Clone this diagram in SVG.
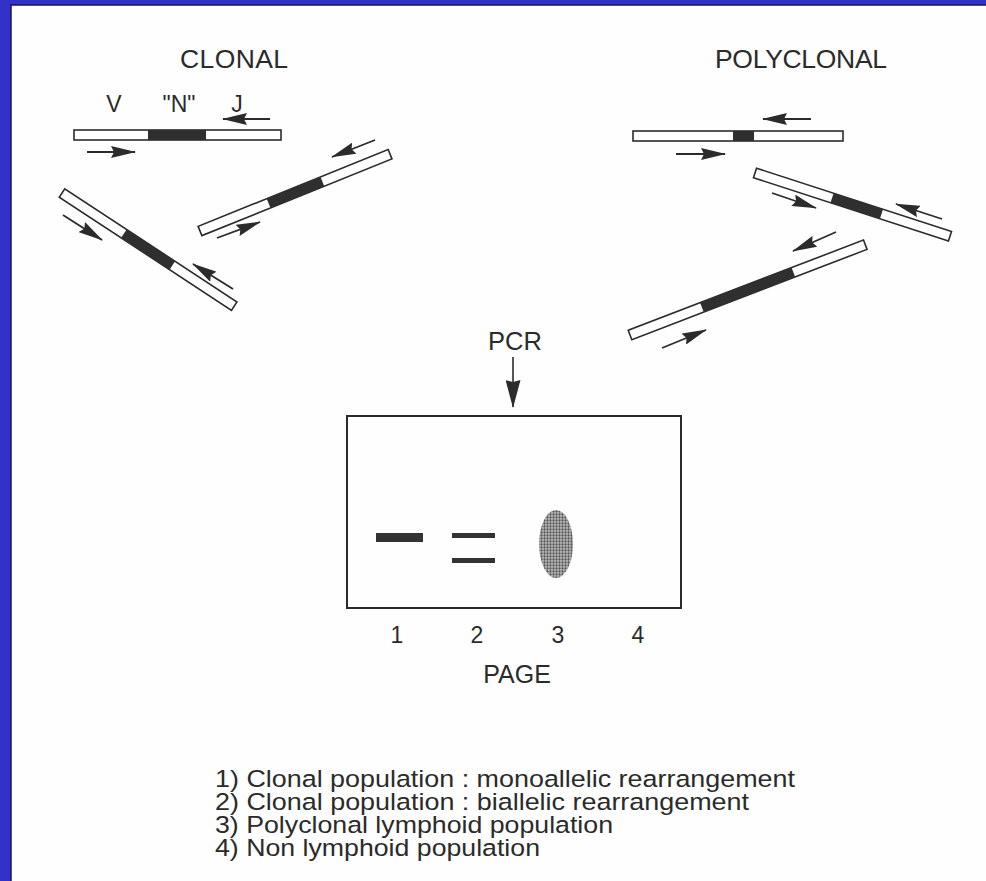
<svg xmlns="http://www.w3.org/2000/svg" width="986" height="881" viewBox="0 0 986 881">
  <defs>
    <style>
      .t { font-family: "Liberation Sans", Arial, Helvetica, sans-serif; fill: #2b2b2b; }
      .bar { fill: #ffffff; stroke: #2b2b2b; stroke-width: 1.6; }
      .seg { fill: #2f2f2f; }
      .pr { stroke: #2b2b2b; stroke-width: 1.8; fill: none; marker-end: url(#head); }
      .lg { font-size: 24.5px; }
    </style>
    <marker id="head" markerUnits="userSpaceOnUse" markerWidth="25" markerHeight="12" refX="24" refY="6" orient="auto">
      <path d="M0,0 L25,6 L0,12 L3,6 Z" fill="#2b2b2b"/>
    </marker>
    <marker id="head2" markerUnits="userSpaceOnUse" markerWidth="28" markerHeight="15" refX="27" refY="7.5" orient="auto">
      <path d="M0,0 L28,7.5 L0,15 L2,7.5 Z" fill="#2b2b2b"/>
    </marker>
    <pattern id="dots" patternUnits="userSpaceOnUse" width="3" height="3">
      <rect width="3" height="3" fill="#bdbdbd"/>
      <circle cx="1.5" cy="1.5" r="1.15" fill="#555555"/>
    </pattern>
  </defs>

  <!-- frame -->
  <rect x="0" y="0" width="986" height="881" fill="#3232c8"/>
  <rect x="11" y="5" width="976" height="877" fill="#fefefe" stroke="#1a1a3a" stroke-width="1.5"/>

  <!-- headings -->
  <text class="t" x="180" y="68" font-size="26.5" textLength="108">CLONAL</text>
  <text class="t" x="715" y="68" font-size="26.5" textLength="172">POLYCLONAL</text>

  <!-- clonal molecules -->
  <g id="clonal-1">
    <text class="t" x="114" y="112" font-size="23" text-anchor="middle">V</text>
    <text class="t" x="179" y="112" font-size="23" text-anchor="middle">"N"</text>
    <text class="t" x="237" y="112" font-size="23" text-anchor="middle">J</text>
    <g transform="translate(74,135)">
      <rect class="bar" x="0" y="-5" width="207" height="10"/>
      <rect class="seg" x="74" y="-5" width="58" height="10"/>
    </g>
  </g>
  <g id="clonal-2">
    <g transform="translate(62,193) rotate(33.3)">
      <rect class="bar" x="0" y="-5" width="206" height="10"/>
      <rect class="seg" x="74" y="-5" width="58" height="10"/>
    </g>
  </g>
  <g id="clonal-3">
    <g transform="translate(200,231) rotate(-22)">
      <rect class="bar" x="0" y="-5" width="205" height="10"/>
      <rect class="seg" x="74" y="-5" width="58" height="10"/>
    </g>
  </g>

  <!-- polyclonal molecules -->
  <g id="poly-1">
    <g transform="translate(633,136)">
      <rect class="bar" x="0" y="-5" width="210" height="10"/>
      <rect class="seg" x="100" y="-5" width="21" height="10"/>
    </g>
  </g>
  <g id="poly-2">
    <g transform="translate(755,173) rotate(18)">
      <rect class="bar" x="0" y="-5" width="205" height="10"/>
      <rect class="seg" x="81" y="-5" width="52" height="10"/>
    </g>
  </g>
  <g id="poly-3">
    <g transform="translate(630,335) rotate(-21)">
      <rect class="bar" x="0" y="-5" width="252" height="10"/>
      <rect class="seg" x="77" y="-5" width="98" height="10"/>
    </g>
  </g>

  <!-- PCR -->
  <g id="pcr">
    <text class="t" x="515" y="350" font-size="25.5" text-anchor="middle">PCR</text>
  </g>

  <!-- gel -->
  <g id="gel">
    <rect x="347" y="416" width="334" height="192" fill="none" stroke="#2b2b2b" stroke-width="2"/>
    <rect x="376" y="533" width="47" height="9" fill="#333"/>
    <rect x="452" y="533" width="43" height="5" fill="#333"/>
    <rect x="452" y="558" width="43" height="5" fill="#333"/>
    <ellipse cx="556" cy="544" rx="17" ry="34" fill="url(#dots)"/>
    <text class="t" x="397" y="643" font-size="23" text-anchor="middle">1</text>
    <text class="t" x="477" y="643" font-size="23" text-anchor="middle">2</text>
    <text class="t" x="558" y="643" font-size="23" text-anchor="middle">3</text>
    <text class="t" x="638" y="643" font-size="23" text-anchor="middle">4</text>
    <text class="t" x="517" y="683" font-size="25" text-anchor="middle">PAGE</text>
  </g>

  <!-- legend -->
  <g id="legend">
    <text class="t lg" x="215" y="787" textLength="580" lengthAdjust="spacingAndGlyphs">1) Clonal population : monoallelic rearrangement</text>
    <text class="t lg" x="215" y="810" textLength="534" lengthAdjust="spacingAndGlyphs">2) Clonal population : biallelic rearrangement</text>
    <text class="t lg" x="215" y="833" textLength="398" lengthAdjust="spacingAndGlyphs">3) Polyclonal lymphoid population</text>
    <text class="t lg" x="215" y="856" textLength="325" lengthAdjust="spacingAndGlyphs">4) Non lymphoid population</text>
  </g>

  <!-- connectors: primer arrows and PCR arrow -->
  <g id="connectors">
    <line class="pr" x1="270" y1="119" x2="223" y2="119"/>
    <line class="pr" x1="87" y1="152" x2="135" y2="152"/>
    <line class="pr" x1="63" y1="215" x2="102" y2="240"/>
    <line class="pr" x1="233" y1="289" x2="193" y2="264"/>
    <line class="pr" x1="375" y1="140" x2="332" y2="157"/>
    <line class="pr" x1="217" y1="238" x2="260" y2="222"/>
    <line class="pr" x1="811" y1="119" x2="763" y2="119"/>
    <line class="pr" x1="676" y1="154" x2="725" y2="154"/>
    <line class="pr" x1="772" y1="193" x2="816" y2="208"/>
    <line class="pr" x1="942" y1="219" x2="896" y2="204"/>
    <line class="pr" x1="836" y1="232" x2="793" y2="251"/>
    <line class="pr" x1="662" y1="348" x2="706" y2="330"/>
    <line x1="513" y1="357" x2="513" y2="407" stroke="#2b2b2b" stroke-width="1.6" marker-end="url(#head2)"/>
  </g>
</svg>
